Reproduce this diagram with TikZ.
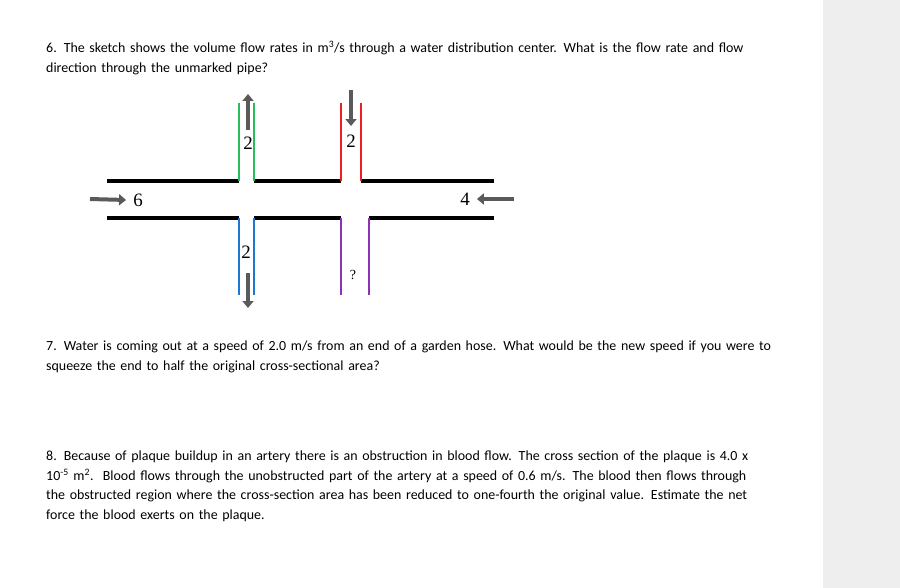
\documentclass[tikz,border=0pt]{standalone}
\usepackage{fontspec}
\setmainfont{Carlito}
\newfontfamily\numfont{Liberation Serif}
\definecolor{pipeGreen}{RGB}{40, 190, 90}
\definecolor{pipeRed}{RGB}{235, 30, 35}
\definecolor{pipeBlue}{RGB}{30, 120, 210}
\definecolor{pipePurple}{RGB}{140, 50, 180}
\definecolor{panelGray}{RGB}{238, 238, 238}
\definecolor{arrowGray}{RGB}{90, 90, 90}
\tikzset{
  wall/.style={line width=3.6pt},
  branch/.style={line width=2pt},
  flow/.style={line width=4pt, draw=arrowGray, -{Triangle[length=7pt,width=11pt]}},
  num/.style={font=\numfont\fontsize{19}{19}\selectfont, inner sep=0pt},
  question/.style={anchor=north west, align=left, inner sep=0pt, text width=790bp,
    font=\fontsize{14}{19.6}\selectfont}
}
\usetikzlibrary{arrows.meta}
\begin{document}
\begin{tikzpicture}[x=1bp, y=-1bp]
            \useasboundingbox (0,0) rectangle (900,588);
            \fill[white] (0,0) rectangle (900,588);
            \fill[panelGray] (823,0) rectangle (900,588);
            
            % Questions
            \node[question] (q6) at (46,41) {6. The sketch shows the volume flow rates in m\textsuperscript{3}/s through a water distribution center. What is the flow rate and flow\\direction through the unmarked pipe?};
            \node[question] (q7) at (46,341) {7. Water is coming out at a speed of 2.0 m/s from an end of a garden hose. What would be the new speed if you were to\\squeeze the end to half the original cross-sectional area?};
            \node[question] (q8) at (46,451) {8. Because of plaque buildup in an artery there is an obstruction in blood flow. The cross section of the plaque is 4.0 x\\10\textsuperscript{-5} m\textsuperscript{2}.\ \ Blood flows through the unobstructed part of the artery at a speed of 0.6 m/s. The blood then flows through\\the obstructed region where the cross-section area has been reduced to one-fourth the original value. Estimate the net\\force the blood exerts on the plaque.};
            
            % Main pipe
            \draw[wall] (107,181) -- (239,181);
            \draw[wall] (254,181) -- (341,181);
            \draw[wall] (361,181) -- (494,181);
            \draw[wall] (107,218) -- (239,218);
            \draw[wall] (254,218) -- (341,218);
            \draw[wall] (369,218) -- (494,218);
            
            % Branches
            \draw[pipeGreen, branch] (239,103) -- (239,181) (254,103) -- (254,181);
            \draw[pipeRed, branch] (341,103) -- (341,181) (361,103) -- (361,181);
            \draw[pipeBlue, branch] (239,218) -- (239,295) (254,218) -- (254,295);
            \draw[pipePurple, branch] (341,218) -- (341,295) (369,218) -- (369,295);
            
            % Labels
            \node[num] (lin) at (138,200) {6};
            \node[num] (lout) at (465,199) {4};
            \node[num] (lg) at (248,143) {2};
            \node[num] (lr) at (351,141) {2};
            \node[num] (lb) at (246,252) {2};
            \node[num, font=\numfont\fontsize{14}{14}\selectfont] (lq) at (353,275) {?};
            
            % Flow arrows
            \coordinate (ain) at (90,199);
            \coordinate (aout) at (514,199);
            \coordinate (ag) at (248,130);
            \coordinate (ar) at (351,90);
            \coordinate (ab) at (248,273);
            \draw[flow] (ain) -- ([xshift=-7bp]lin.west);
            \draw[flow] (aout) -- ([xshift=7bp]lout.east);
            \draw[flow] (ag) -- ++(0,-36);
            \draw[flow] (ar) -- ++(0,36);
            \draw[flow] (ab) -- ++(0,35);
        \end{tikzpicture}
\end{document}
